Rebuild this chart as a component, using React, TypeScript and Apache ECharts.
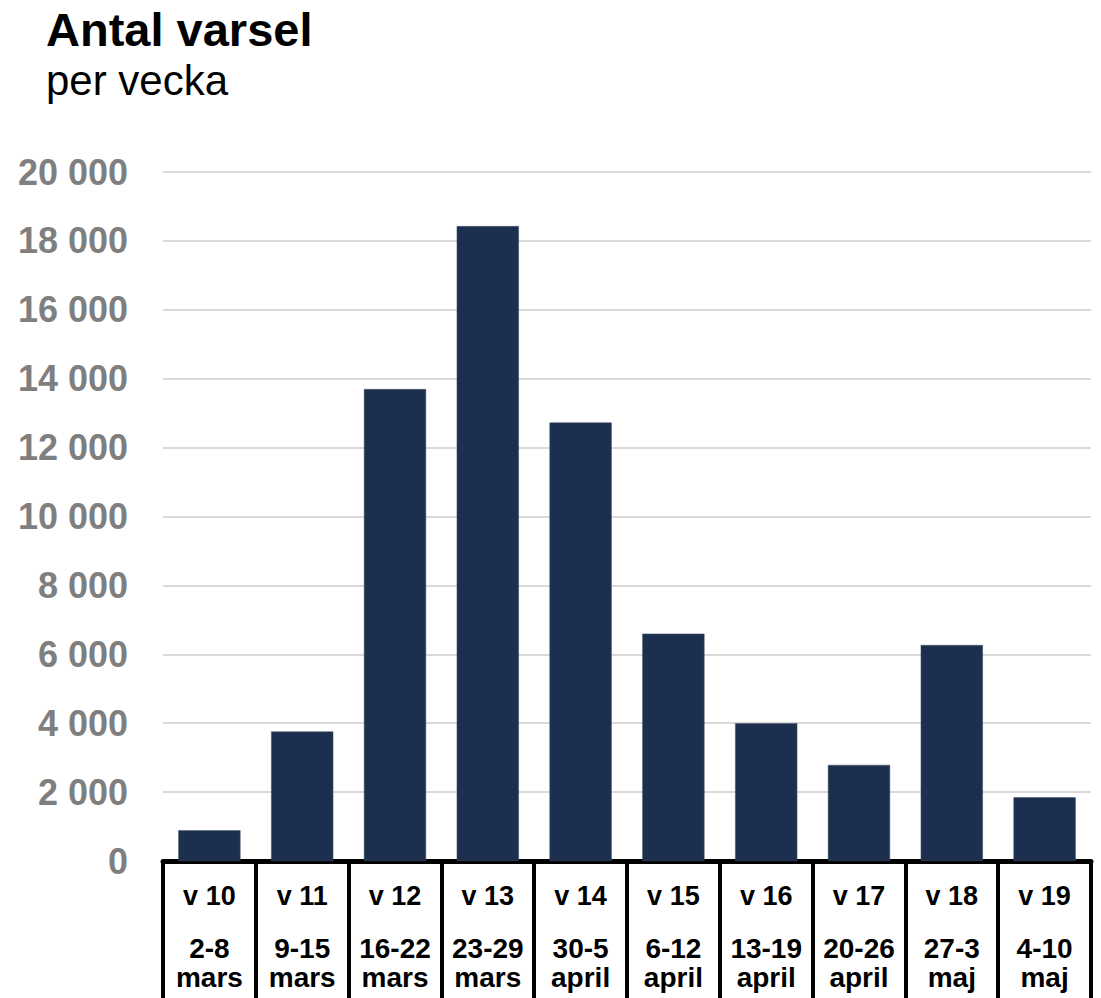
import React, { useEffect, useRef } from "react";
import * as echarts from "echarts";

const weeks = ["v 10", "v 11", "v 12", "v 13", "v 14", "v 15", "v 16", "v 17", "v 18", "v 19"];
const dateRanges = ["2-8", "9-15", "16-22", "23-29", "30-5", "6-12", "13-19", "20-26", "27-3", "4-10"];
const months = ["mars", "mars", "mars", "mars", "april", "april", "april", "april", "maj", "maj"];
const varsel = [890, 3760, 13700, 18430, 12730, 6600, 4000, 2790, 6270, 1850];
const yTicks = { min: 0, max: 20000, interval: 2000 };

const FONT = "'Liberation Sans', Arial, Helvetica, sans-serif";

export default function App() {
  const ref = useRef<HTMLDivElement>(null);
  useEffect(() => {
    if (!ref.current) return;
    const chart = echarts.init(ref.current, null, { renderer: "svg" });
    chart.setOption({
      animation: false,
      backgroundColor: "#ffffff",
      textStyle: { fontFamily: FONT },
      title: [
        {
          text: "Antal varsel",
          left: 46,
          top: 6,
          padding: 0,
          textStyle: { fontFamily: FONT, fontSize: 47, fontWeight: "bold", color: "#000000" },
        },
        {
          text: "per vecka",
          left: 46,
          top: 59,
          padding: 0,
          textStyle: { fontFamily: FONT, fontSize: 42, fontWeight: "normal", color: "#000000" },
        },
      ],
      grid: { left: 163, right: 10, top: 172, bottom: 137, containLabel: false },
      xAxis: {
        type: "category",
        data: weeks,
        boundaryGap: true,
        axisLine: { show: true, lineStyle: { color: "#000000", width: 5 } },
        axisTick: {
          show: true,
          interval: 0,
          alignWithLabel: false,
          length: 150,
          lineStyle: { color: "#000000", width: 4 },
        },
        axisLabel: {
          interval: 0,
          margin: 15,
          formatter: (value: string, idx: number) =>
            `{a|${value}}\n{s| }\n{b|${dateRanges[idx]}}\n{b|${months[idx]}}`,
          rich: {
            a: { fontFamily: FONT, fontSize: 27, fontWeight: "bold", color: "#000000", lineHeight: 40 },
            s: { fontSize: 8, lineHeight: 18 },
            b: { fontFamily: FONT, fontSize: 28, fontWeight: "bold", color: "#000000", lineHeight: 29 },
          },
        },
      },
      yAxis: {
        type: "value",
        min: yTicks.min,
        max: yTicks.max,
        interval: yTicks.interval,
        axisLine: { show: false },
        axisTick: { show: false },
        axisLabel: {
          margin: 35,
          fontFamily: FONT,
          fontSize: 36,
          fontWeight: "bold",
          color: "#7f7f7f",
          formatter: (v: number) => String(v).replace(/\B(?=(\d{3})+(?!\d))/g, " "),
        },
        splitLine: { show: true, lineStyle: { color: "#d9d9d9", width: 2 } },
      },
      series: [
        {
          type: "bar",
          data: varsel,
          barCategoryGap: "33%",
          itemStyle: { color: "#1c2f4f", borderColor: "#44546a", borderWidth: 0.5 },
        },
      ],
    });
    return () => chart.dispose();
  }, []);
  return (
    <div
      ref={ref}
      style={{ position: "fixed", left: 0, top: 0, width: 1101, height: 998 }}
    />
  );
}
